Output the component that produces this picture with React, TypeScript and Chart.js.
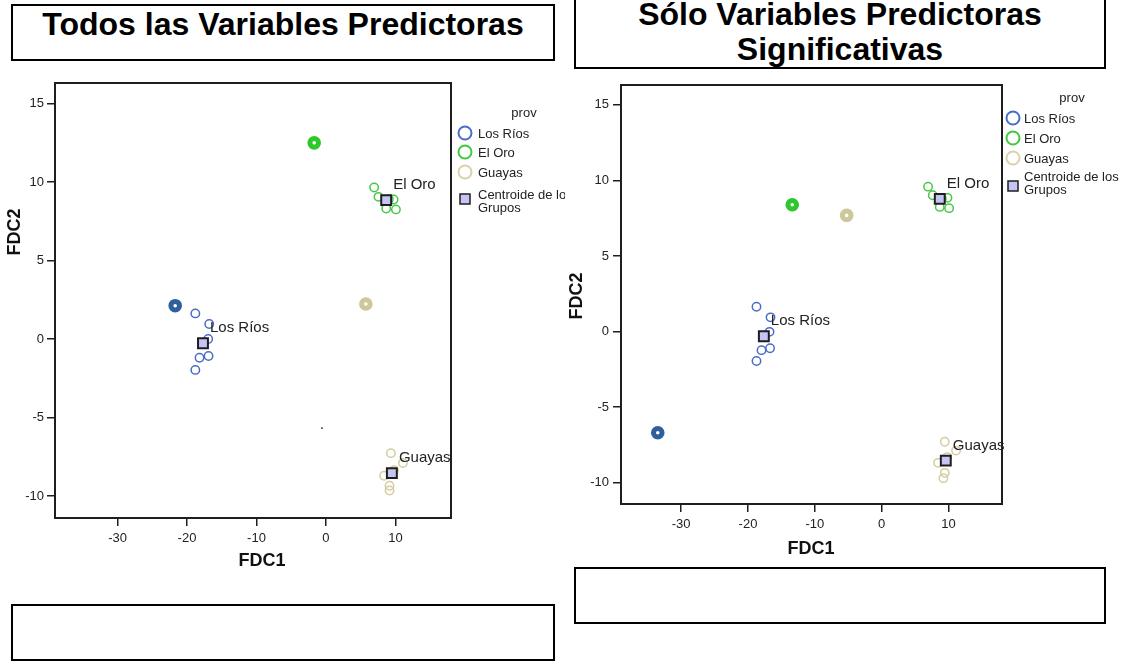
import React, { useEffect, useRef } from "react";
import { Chart, registerables } from "chart.js";

Chart.register(...registerables);

const FONT = '"Liberation Sans", Arial, Helvetica, sans-serif';

// ---------- shared axis ticks ----------
const xTickValues = [-30, -20, -10, 0, 10];
const yTickValues = [-10, -5, 0, 5, 10, 15];
const xAxisTitle = "FDC1";
const yAxisTitle = "FDC2";
const groupNames = ["Los Ríos", "El Oro", "Guayas"];
const legendTitle = "prov";
const legendCentroidLabel = ["Centroide de los", "Grupos"];

// ---------- left chart: Todos las Variables Predictoras ----------
const allLosRiosX = [-18.8, -16.8, -16.95, -16.9, -18.2, -18.8];
const allLosRiosY = [1.63, 0.95, 0.0, -1.08, -1.2, -1.97];
const allElOroX = [6.94, 7.56, 9.73, 8.67, 10.07, 9.05];
const allElOroY = [9.65, 9.05, 8.88, 8.31, 8.25, 8.9];
const allGuayasX = [9.35, 11.08, 8.38, 9.15, 9.15, 9.8];
const allGuayasY = [-7.27, -7.9, -8.71, -9.35, -9.65, -8.36];
const allUngroupedX = [-21.7, -1.69, 5.74];
const allUngroupedY = [2.12, 12.49, 2.23];
const allCentroidX = [-17.7, 8.67, 9.49];
const allCentroidY = [-0.27, 8.84, -8.54];
const allStrayX = [-0.57];
const allStrayY = [-5.68];

// ---------- right chart: Sólo Variables Predictoras Significativas ----------
const sigLosRiosX = [-18.73, -16.63, -16.78, -16.7, -17.98, -18.73];
const sigLosRiosY = [1.64, 0.94, -0.02, -1.1, -1.23, -1.95];
const sigElOroX = [6.94, 7.64, 9.84, 8.69, 10.09, 9.0];
const sigElOroY = [9.58, 9.01, 8.84, 8.24, 8.16, 8.8];
const sigGuayasX = [9.44, 11.13, 8.44, 9.44, 9.24, 9.8];
const sigGuayasY = [-7.28, -7.87, -8.68, -9.34, -9.69, -8.3];
const sigUngroupedX = [-33.5, -13.38, -5.24];
const sigUngroupedY = [-6.69, 8.38, 7.68];
const sigCentroidX = [-17.63, 8.69, 9.59];
const sigCentroidY = [-0.31, 8.77, -8.53];

// ---------- colours ----------
const caseColors = ["#4a6cc9", "#46c846", "#d6cba0"];
const legendColors = ["#4a6cc9", "#3fc93f", "#dcd1aa"];
const ungroupedColors = ["#2f5f9c", "#2cc82c", "#cdc89a"];
const centroidFill = "#c6c4f2";
const ink = "#1e1e1e";

function pts(xs: number[], ys: number[]) {
  return xs.map((x, i) => ({ x, y: ys[i] }));
}

const decorPlugin = {
  id: "decor",
  afterDraw(chart: any, _args: any, opts: any) {
    const { ctx, chartArea: a, scales } = chart;
    ctx.save();
    // frame
    ctx.strokeStyle = ink;
    ctx.lineWidth = 2;
    ctx.strokeRect(a.left, a.top, a.right - a.left, a.bottom - a.top);
    // axis titles
    ctx.font = `bold 18px ${FONT}`;
    ctx.fillStyle = "#111";
    ctx.textAlign = "center";
    ctx.textBaseline = "middle";
    ctx.fillText(xAxisTitle, opts.xTitle.x, opts.xTitle.y);
    ctx.save();
    ctx.translate(opts.yTitle.x, opts.yTitle.y);
    ctx.rotate(-Math.PI / 2);
    ctx.fillText(yAxisTitle, 0, 0);
    ctx.restore();
    // group labels next to centroids
    ctx.font = `15px ${FONT}`;
    ctx.fillStyle = "#222";
    ctx.textBaseline = "middle";
    ctx.textAlign = "left";
    opts.names.forEach((n: string, i: number) => {
      const px = scales.x.getPixelForValue(opts.cx[i]) + 7;
      const py = scales.y.getPixelForValue(opts.cy[i]) - 15;
      ctx.fillText(n, px, py);
    });
    // legend
    const L = opts.legend;
    ctx.font = `13px ${FONT}`;
    ctx.textAlign = "center";
    ctx.fillStyle = "#222";
    ctx.fillText(legendTitle, L.provX, L.provY);
    ctx.textAlign = "left";
    groupNames.forEach((n, i) => {
      ctx.beginPath();
      ctx.arc(L.markX, L.itemY[i], 6.5, 0, Math.PI * 2);
      ctx.strokeStyle = legendColors[i];
      ctx.lineWidth = 2;
      ctx.stroke();
      ctx.fillStyle = "#222";
      ctx.fillText(n, L.textX, L.itemY[i] + 1);
    });
    ctx.fillStyle = centroidFill;
    ctx.fillRect(L.markX - 5, L.sqY - 5, 10, 10);
    ctx.strokeStyle = ink;
    ctx.lineWidth = 1.5;
    ctx.strokeRect(L.markX - 5, L.sqY - 5, 10, 10);
    ctx.fillStyle = "#222";
    legendCentroidLabel.forEach((t, i) => {
      ctx.fillText(t, L.textX, L.sqTextY[i]);
    });
    ctx.restore();
  },
};

type PanelProps = {
  left: number;
  top: number;
  width: number;
  height: number;
  padding: { left: number; right: number; top: number; bottom: number };
  yAxisWidth: number;
  xAxisHeight: number;
  yTickPad: number;
  xTitle: { x: number; y: number };
  yTitle: { x: number; y: number };
  cases: { x: number[]; y: number[] }[];
  ungrouped: { x: number[]; y: number[] };
  centroids: { x: number[]; y: number[] };
  stray?: { x: number[]; y: number[] };
  legend: any;
};

function ScatterPanel(p: PanelProps) {
  const ref = useRef<HTMLCanvasElement | null>(null);
  useEffect(() => {
    if (!ref.current) return;
    const datasets: any[] = [
      {
        label: "Centroides",
        data: pts(p.centroids.x, p.centroids.y),
        pointStyle: "rect",
        pointRadius: 7,
        borderWidth: 2,
        borderColor: ink,
        backgroundColor: centroidFill,
      },
      {
        label: "No agrupados",
        data: pts(p.ungrouped.x, p.ungrouped.y),
        pointStyle: "circle",
        pointRadius: 4.3,
        borderWidth: 5,
        pointBorderColor: ungroupedColors,
        pointBackgroundColor: "#ffffff",
      },
      ...p.cases.map((c, i) => ({
        label: groupNames[i],
        data: pts(c.x, c.y),
        pointStyle: "circle",
        pointRadius: 4.2,
        borderWidth: 1.5,
        borderColor: caseColors[i],
        backgroundColor: "rgba(0,0,0,0)",
      })),
    ];
    if (p.stray) {
      datasets.push({
        label: "punto",
        data: pts(p.stray.x, p.stray.y),
        pointRadius: 0.8,
        borderWidth: 0,
        backgroundColor: "#000",
      });
    }
    const tickColor = ink;
    const chart = new Chart(ref.current, {
      type: "scatter",
      data: { datasets },
      plugins: [decorPlugin as any],
      options: {
        animation: false,
        responsive: false,
        devicePixelRatio: 1,
        layout: { padding: p.padding },
        plugins: {
          legend: { display: false },
          tooltip: { enabled: false },
          decor: {
            names: groupNames,
            cx: p.centroids.x,
            cy: p.centroids.y,
            legend: p.legend,
            xTitle: p.xTitle,
            yTitle: p.yTitle,
          },
        } as any,
        scales: {
          x: {
            type: "linear",
            min: -39,
            max: 18,
            afterBuildTicks: (s: any) => {
              s.ticks = xTickValues.map((v) => ({ value: v }));
            },
            afterFit: (s: any) => {
              s.height = p.xAxisHeight;
            },
            grid: {
              display: true,
              drawOnChartArea: false,
              drawTicks: true,
              tickLength: 8,
              color: tickColor,
              lineWidth: 1.5,
            },
            border: { display: false },
            ticks: {
              color: "#222",
              font: { size: 13, family: FONT },
              padding: 5,
              maxRotation: 0,
            },
            title: { display: false },
          },
          y: {
            type: "linear",
            min: -11.4,
            max: 16.3,
            afterBuildTicks: (s: any) => {
              s.ticks = yTickValues.map((v) => ({ value: v }));
            },
            afterFit: (s: any) => {
              s.width = p.yAxisWidth;
            },
            grid: {
              display: true,
              drawOnChartArea: false,
              drawTicks: true,
              tickLength: 8,
              color: tickColor,
              lineWidth: 1.5,
            },
            border: { display: false },
            ticks: {
              color: "#222",
              font: { size: 13, family: FONT },
              padding: p.yTickPad,
            },
            title: { display: false },
          },
        },
      } as any,
    });
    return () => chart.destroy();
  }, []);
  return (
    <canvas
      ref={ref}
      width={p.width}
      height={p.height}
      style={{
        position: "absolute",
        left: p.left,
        top: p.top,
        width: p.width,
        height: p.height,
        display: "block",
      }}
    />
  );
}

function boxStyle(left: number, top: number, width: number, height: number): React.CSSProperties {
  return {
    position: "absolute",
    left,
    top,
    width,
    height,
    border: "2px solid #000",
    boxSizing: "border-box",
    background: "#fff",
  };
}

const titleText: React.CSSProperties = {
  position: "absolute",
  fontFamily: FONT,
  fontWeight: "bold",
  fontSize: 32,
  color: "#000",
  textAlign: "center",
  whiteSpace: "nowrap",
};

export default function App() {
  return (
    <div
      style={{
        position: "absolute",
        left: 0,
        top: 0,
        width: 1127,
        height: 661,
        background: "#fff",
        overflow: "hidden",
      }}
    >
      <div style={boxStyle(11, 4, 544, 57)} />
      <div style={{ ...titleText, left: 11, top: 6, width: 544, lineHeight: "36px" }}>
        Todos las Variables Predictoras
      </div>
      <div style={boxStyle(574, -3, 532, 72)} />
      <div style={{ ...titleText, left: 574, top: -3, width: 532, lineHeight: "35px" }}>
        Sólo Variables Predictoras
        <br />
        Significativas
      </div>
      <div style={boxStyle(11, 604, 544, 57)} />
      <div style={boxStyle(574, 567, 532, 57)} />

      <ScatterPanel
        left={0}
        top={70}
        width={565}
        height={520}
        padding={{ left: 5, right: 114, top: 13, bottom: 19 }}
        yAxisWidth={50}
        xAxisHeight={53}
        yTickPad={3}
        xTitle={{ x: 262, y: 491 }}
        yTitle={{ x: 15, y: 162 }}
        cases={[
          { x: allLosRiosX, y: allLosRiosY },
          { x: allElOroX, y: allElOroY },
          { x: allGuayasX, y: allGuayasY },
        ]}
        ungrouped={{ x: allUngroupedX, y: allUngroupedY }}
        centroids={{ x: allCentroidX, y: allCentroidY }}
        stray={{ x: allStrayX, y: allStrayY }}
        legend={{
          provX: 524,
          provY: 43,
          markX: 465,
          textX: 478,
          itemY: [63, 82, 102],
          sqY: 129,
          sqTextY: [125, 138],
        }}
      />
      <ScatterPanel
        left={565}
        top={70}
        width={562}
        height={500}
        padding={{ left: 2, right: 125, top: 15, bottom: 11 }}
        yAxisWidth={54}
        xAxisHeight={55}
        yTickPad={4}
        xTitle={{ x: 246, y: 479 }}
        yTitle={{ x: 12, y: 226 }}
        cases={[
          { x: sigLosRiosX, y: sigLosRiosY },
          { x: sigElOroX, y: sigElOroY },
          { x: sigGuayasX, y: sigGuayasY },
        ]}
        ungrouped={{ x: sigUngroupedX, y: sigUngroupedY }}
        centroids={{ x: sigCentroidX, y: sigCentroidY }}
        legend={{
          provX: 507,
          provY: 28,
          markX: 448,
          textX: 459,
          itemY: [48, 68, 88],
          sqY: 116,
          sqTextY: [107, 120],
        }}
      />
    </div>
  );
}
